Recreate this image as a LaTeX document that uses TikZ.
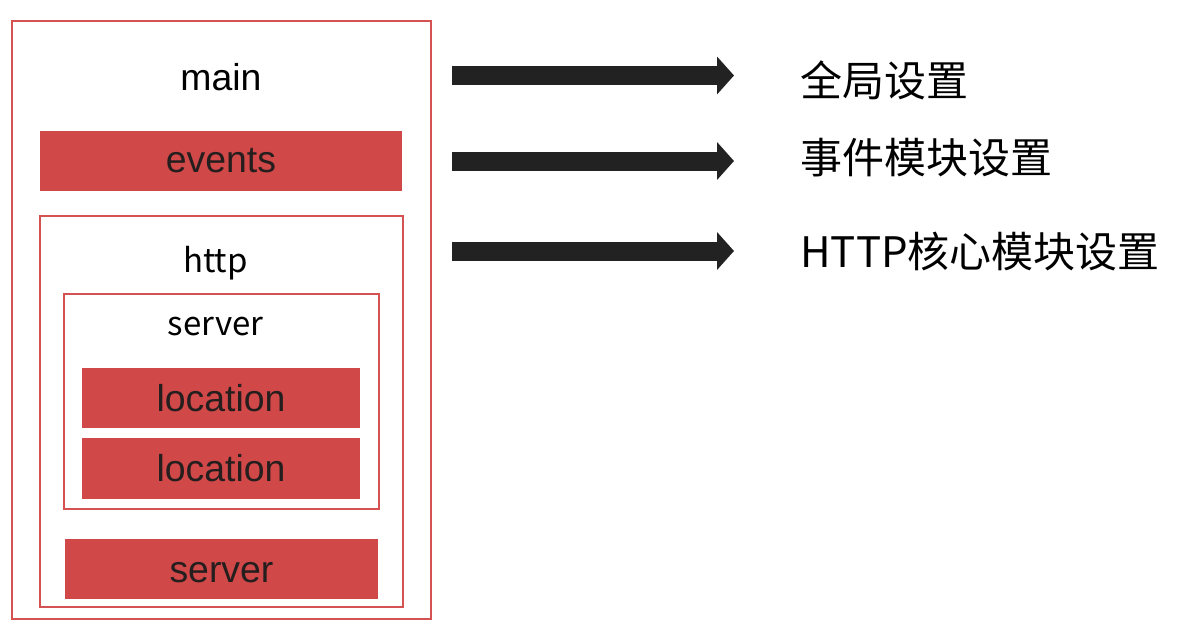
\documentclass[tikz,border=0pt]{standalone}
\usepackage{fontspec}
\setmainfont{Liberation Sans}
\newfontfamily\cjk{Noto Sans CJK SC}
\usetikzlibrary{arrows.meta}
\definecolor{boxred}{RGB}{208,72,72}
\definecolor{linered}{RGB}{212,82,82}
\definecolor{arrowblack}{RGB}{34,34,34}
\definecolor{textdark}{RGB}{36,30,30}
\tikzset{
  boxframe/.style={draw=linered, line width=1pt, fill=white},
  block/.style={fill=boxred, text=textdark, inner sep=0pt, font=\fontsize{18.7}{20}\selectfont},
  lbl/.style={font=\fontsize{18.7}{20}\selectfont},
  sublbl/.style={font=\cjk\fontsize{16.5}{19}\selectfont, inner sep=0pt},
  cn/.style={font=\cjk\fontsize{21}{24}\selectfont, anchor=west, inner sep=0pt},
  bigarrow/.style={line width=9.5pt, draw=arrowblack, -{Triangle[length=8.5pt,width=18.5pt]}}
}

\begin{document}
\begin{tikzpicture}[x=0.5pt,y=-0.5pt]
\fill[white] (0,0) rectangle (1188,637);
\useasboundingbox (0,0) rectangle (1188,637);

\node[boxframe, minimum width=209.5pt, minimum height=299pt] (mainbox) at (221.5,320) {};	%main
\node[lbl] (mainlbl) at (221,77) {main};
\node[block, minimum width=181pt, minimum height=30pt] (events) at (221,161) {events};

\node[boxframe, minimum width=181.5pt, minimum height=195.5pt] (httpbox) at (221.5,411.5) {};	%http
\node[sublbl] (httplbl) at (215.5,263) {http};

\node[boxframe, minimum width=157.5pt, minimum height=107.5pt] (serverbox) at (221.5,401.5) {};	%server
\node[sublbl] (serverlbl) at (215.5,327) {server};
\node[block, minimum width=139pt, minimum height=30pt] (loc1) at (221,398) {location};
\node[block, minimum width=139pt, minimum height=30.5pt] (loc2) at (221,468.5) {location};

\node[block, minimum width=156.5pt, minimum height=30pt, text height=13.5pt, text depth=0pt] (server2) at (221.5,569) {server};

\coordinate (a1) at (452,75.5);
\coordinate (b1) at (734,75.5);
\coordinate (a2) at (452,161);
\coordinate (b2) at (734,161);
\coordinate (a3) at (452,251);
\coordinate (b3) at (734,251);
\draw[bigarrow] (a1) -- (b1);	%main
\draw[bigarrow] (a2) -- (b2);	%events
\draw[bigarrow] (a3) -- (b3);	%http

\node[cn] (glob) at (800,80) {全局设置};
\node[cn] (evset) at (800,158) {事件模块设置};
\node[cn] (httpset) at (800,252) {HTTP核心模块设置};

\end{tikzpicture}
\end{document}
